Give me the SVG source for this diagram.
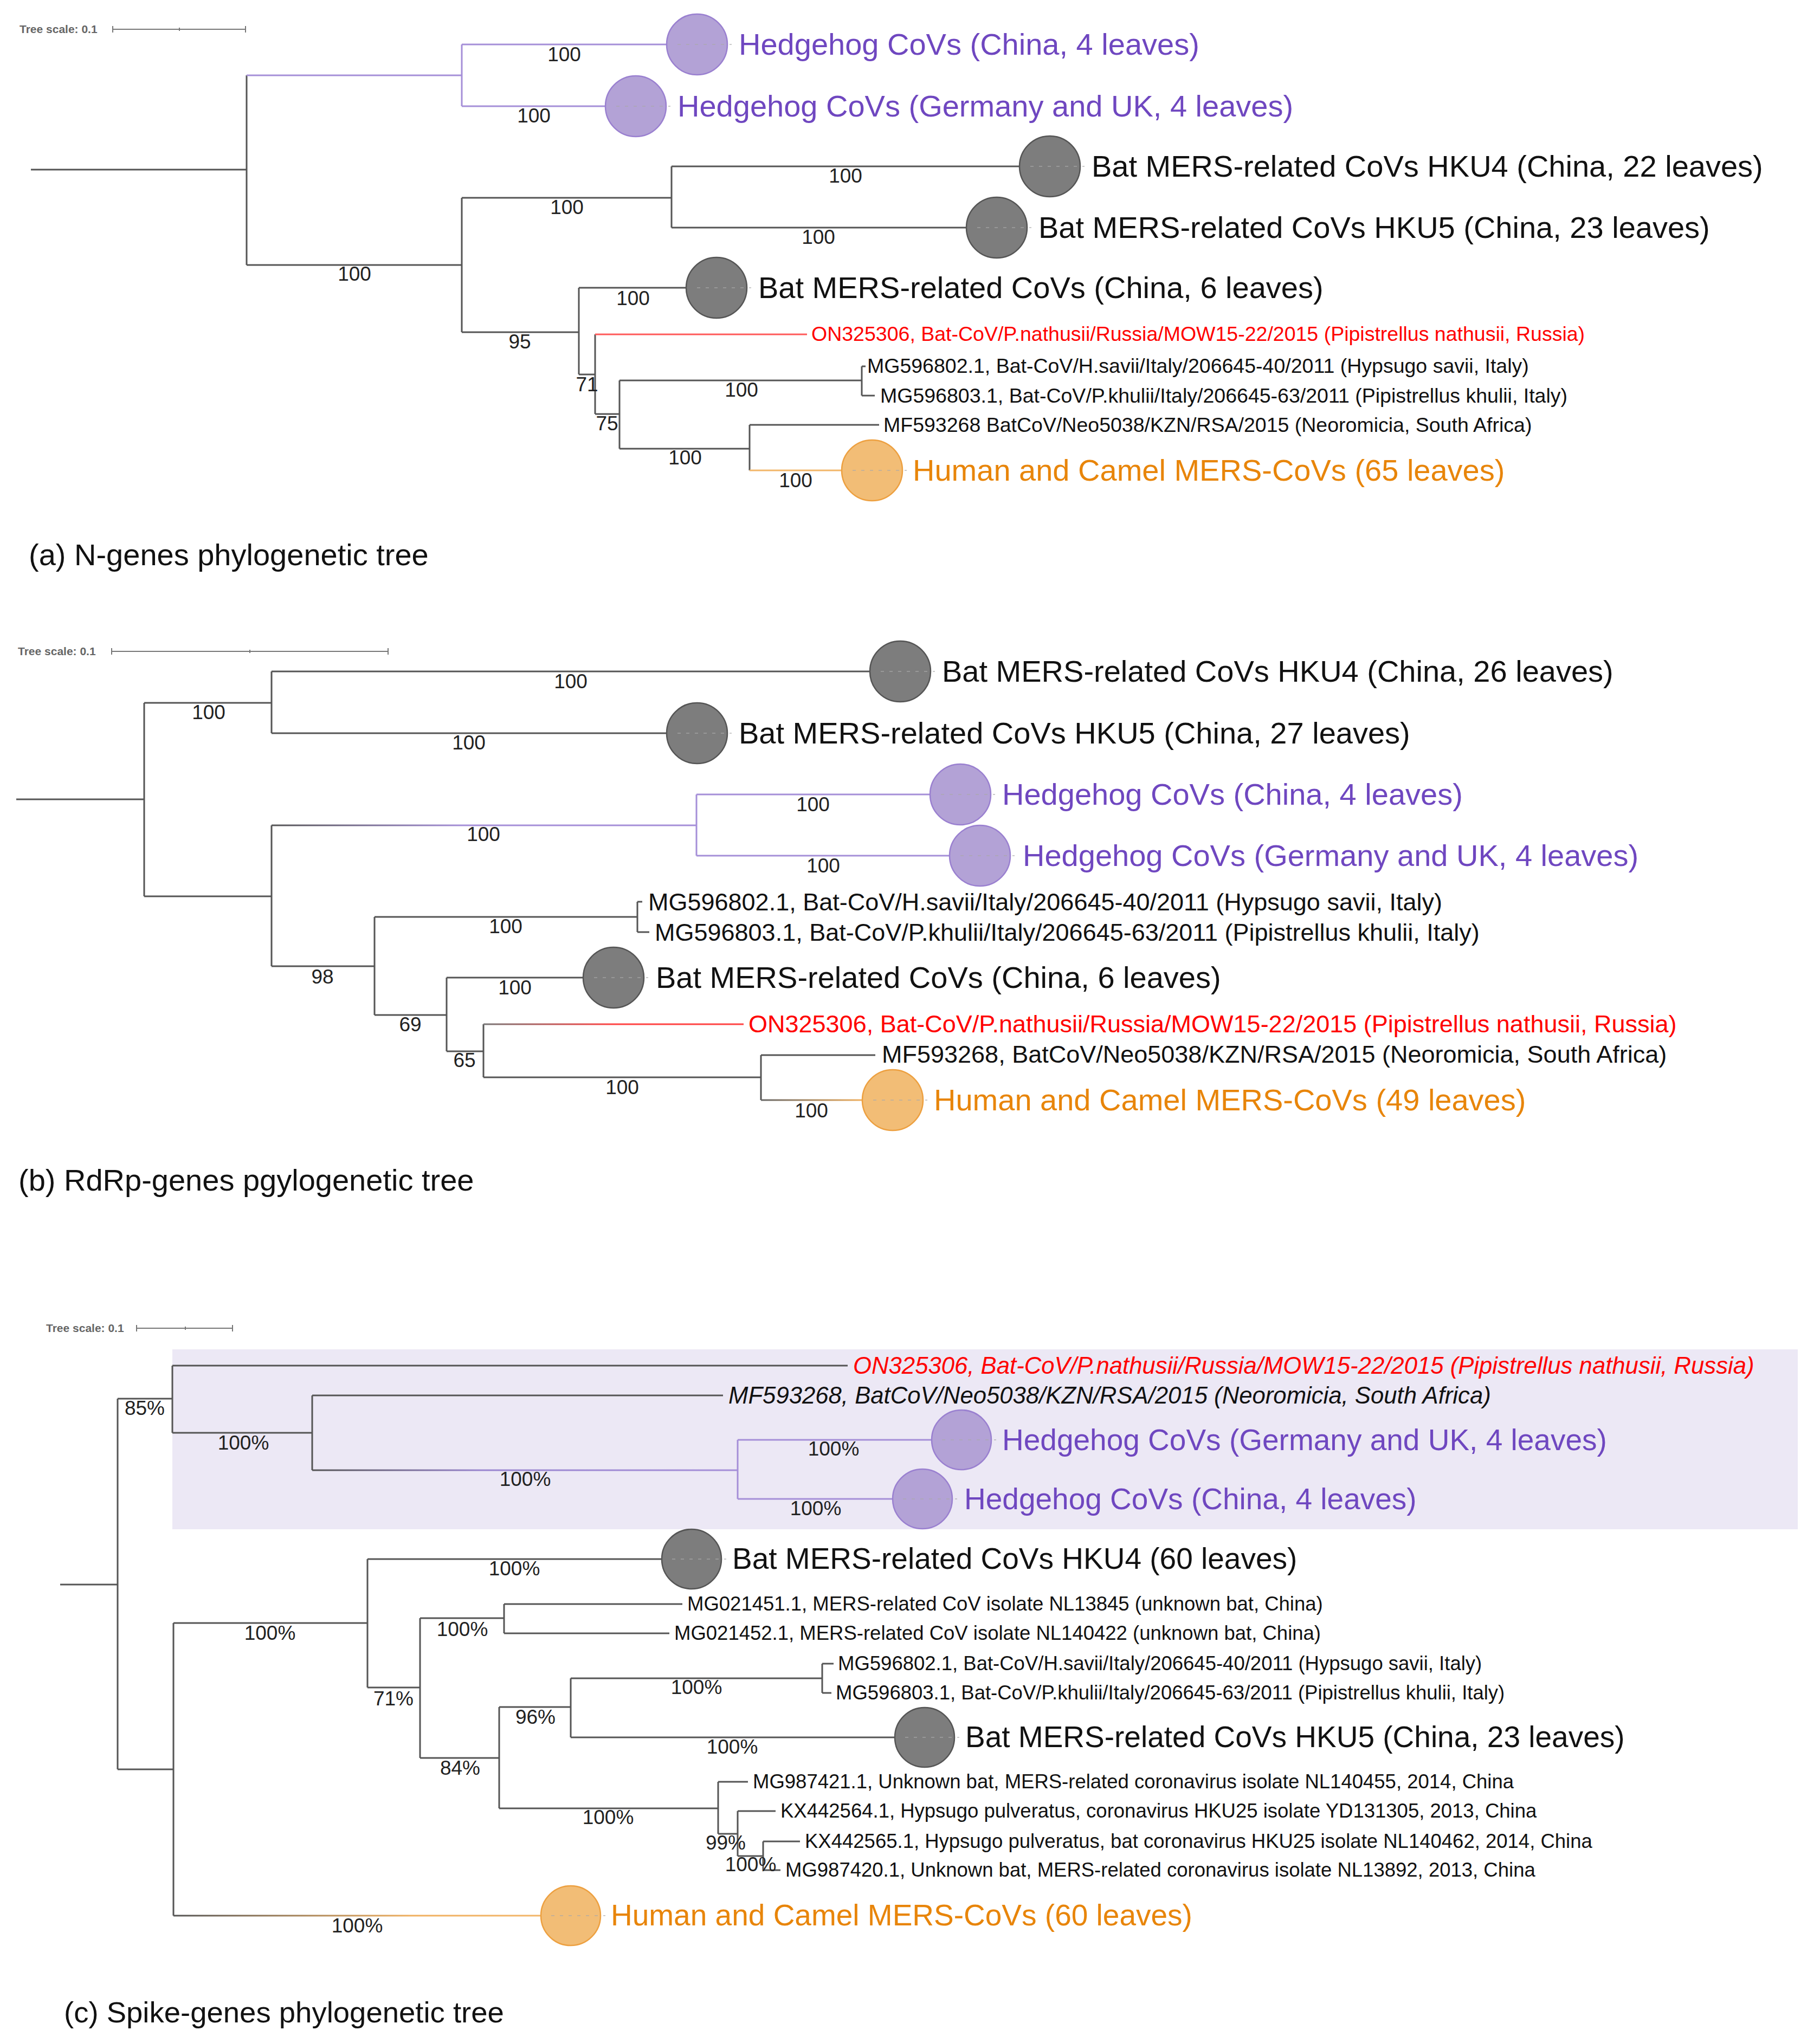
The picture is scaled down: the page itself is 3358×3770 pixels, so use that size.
<svg xmlns="http://www.w3.org/2000/svg" width="3358" height="3770" viewBox="0 0 3358 3770">
<style>
text{font-family:"Liberation Sans",Arial,sans-serif}
.br{stroke:#555;stroke-width:3;fill:none}
.pb{stroke:#a58fd8;stroke-width:3;fill:none}
.rb{stroke:#ff5a5a;stroke-width:3;fill:none}
.ob{stroke:#f2b66a;stroke-width:3;fill:none}
.big{font-size:56px;fill:#111}
.bigc{font-size:55px;fill:#111}
.sa{font-size:37.5px;fill:#111}
.sb{font-size:45px;fill:#111}
.sc{font-size:36.5px;fill:#111}
.it{font-size:43.7px;font-style:italic;fill:#111}
text.pur{fill:#6f47c0}
text.org{fill:#e8850a}
text.red{fill:#ff0000}
.lb{font-size:37px;fill:#222;text-anchor:middle}
.ttl{font-size:56px;fill:#111}
.ttlc{font-size:54.5px;fill:#111}
.ts{font-size:21px;font-weight:bold;fill:#666}
.tsb{stroke:#777;stroke-width:2;fill:none}
.cp{fill:#b3a2d6;stroke:#9a80d0;stroke-width:2.5}
.cg{fill:#7d7d7d;stroke:#555;stroke-width:2.5}
.co{fill:#f2bd76;stroke:#eda040;stroke-width:2.5}
.dl{stroke:#aaa;stroke-width:2;stroke-dasharray:6 10;opacity:0.6}
</style>
<defs>
<linearGradient id="gPb"><stop offset="0" stop-color="#555"/><stop offset="0.45" stop-color="#a58fd8"/><stop offset="1" stop-color="#a58fd8"/></linearGradient>
<linearGradient id="gPc"><stop offset="0" stop-color="#555"/><stop offset="0.4" stop-color="#9a86d0"/><stop offset="1" stop-color="#a58fd8"/></linearGradient>
<linearGradient id="gOc"><stop offset="0" stop-color="#555"/><stop offset="0.65" stop-color="#f0b060"/><stop offset="1" stop-color="#f2b66a"/></linearGradient>
<linearGradient id="gOb"><stop offset="0" stop-color="#666"/><stop offset="1" stop-color="#f0b060"/></linearGradient>
<linearGradient id="gRb"><stop offset="0" stop-color="#777"/><stop offset="0.5" stop-color="#ff4444"/><stop offset="1" stop-color="#ff4444"/></linearGradient>
</defs>
<rect width="3358" height="3770" fill="#fff"/>

<!-- Panel (a) -->
<g id="scale-a">
<text class="ts" x="36" y="61">Tree scale: 0.1</text>
<path class="tsb" d="M208,54 H453 M208,48 V60 M453,48 V60 M331,51 V57"/>
</g>
<g id="connectors-a">
<path class="br" d="M57,313 H455 M455,139 V489 M455,489 H852 M852,365 V613 M852,365 H1239 M1239,307 V420 M1239,307 H1882 M1239,420 H1783 M852,613 H1068 M1068,531 V691 M1068,531 H1266 M1068,691 H1098 M1098,617 V764 M1098,764 H1143 M1143,702 V828 M1143,702 H1590 M1590,676 V730 M1590,676 H1597 M1590,730 H1614 M1143,828 H1383 M1383,784 V868 M1383,784 H1622"/>
<path class="pb" d="M455,139 H852 M852,82 V196 M852,82 H1230 M852,196 H1117"/>
<path class="rb" d="M1098,617 H1489"/>
<path class="ob" d="M1383,868 H1553"/>
<text class="lb" x="1041" y="113">100</text>
<text class="lb" x="985" y="226">100</text>
<text class="lb" x="1560" y="337">100</text>
<text class="lb" x="1510" y="450">100</text>
<text class="lb" x="1046" y="395">100</text>
<text class="lb" x="654" y="518">100</text>
<text class="lb" x="959" y="643">95</text>
<text class="lb" x="1168" y="563">100</text>
<text class="lb" x="1083" y="722">71</text>
<text class="lb" x="1368" y="732">100</text>
<text class="lb" x="1120" y="794">75</text>
<text class="lb" x="1264" y="857">100</text>
<text class="lb" x="1468" y="899">100</text>
</g>
<g id="a-hedgehog-china"><circle class="cp" cx="1286" cy="82" r="56"/><path class="dl" d="M1250,82 H1350"/><text class="big pur" x="1363" y="101">Hedgehog CoVs (China, 4 leaves)</text></g>
<g id="a-hedgehog-germany"><circle class="cp" cx="1173" cy="196" r="56"/><path class="dl" d="M1137,196 H1237"/><text class="big pur" x="1250" y="215">Hedgehog CoVs (Germany and UK, 4 leaves)</text></g>
<g id="a-hku4"><circle class="cg" cx="1937" cy="307" r="56"/><path class="dl" d="M1901,307 H2001"/><text class="big" x="2014" y="326">Bat MERS-related CoVs HKU4 (China, 22 leaves)</text></g>
<g id="a-hku5"><circle class="cg" cx="1839" cy="420" r="56"/><path class="dl" d="M1803,420 H1903"/><text class="big" x="1916" y="439">Bat MERS-related CoVs HKU5 (China, 23 leaves)</text></g>
<g id="a-china6"><circle class="cg" cx="1322" cy="531" r="56"/><path class="dl" d="M1286,531 H1386"/><text class="big" x="1399" y="550">Bat MERS-related CoVs (China, 6 leaves)</text></g>
<g id="a-on325306"><text class="sa red" x="1497" y="629">ON325306, Bat-CoV/P.nathusii/Russia/MOW15-22/2015 (Pipistrellus nathusii, Russia)</text></g>
<g id="a-mg596802"><text class="sa" x="1600" y="688">MG596802.1, Bat-CoV/H.savii/Italy/206645-40/2011 (Hypsugo savii, Italy)</text></g>
<g id="a-mg596803"><text class="sa" x="1624" y="743">MG596803.1, Bat-CoV/P.khulii/Italy/206645-63/2011 (Pipistrellus khulii, Italy)</text></g>
<g id="a-mf593268"><text class="sa" x="1630" y="797">MF593268 BatCoV/Neo5038/KZN/RSA/2015 (Neoromicia, South Africa)</text></g>
<g id="a-human-camel"><circle class="co" cx="1609" cy="868" r="56"/><path class="dl" d="M1573,868 H1673"/><text class="big org" x="1684" y="887">Human and Camel MERS-CoVs (65 leaves)</text></g>
<g id="title-a"><text class="ttl" x="53" y="1043">(a) N-genes phylogenetic tree</text></g>

<!-- Panel (b) -->
<g id="scale-b">
<text class="ts" x="33" y="1209">Tree scale: 0.1</text>
<path class="tsb" d="M206,1202 H716 M206,1196 V1208 M716,1196 V1208 M461,1199 V1205"/>
</g>
<g id="connectors-b">
<path class="br" d="M30,1475 H266 M266,1297 V1654 M266,1297 H501 M501,1239 V1353 M501,1239 H1605 M501,1353 H1230 M266,1654 H501 M501,1523 V1783 M501,1783 H691 M691,1692 V1873 M691,1692 H1176 M1176,1664 V1720 M1176,1664 H1185 M1176,1720 H1198 M691,1873 H824 M824,1804 V1940 M824,1804 H1076 M824,1940 H892 M892,1890 V1988 M892,1988 H1404 M1404,1947 V2030 M1404,1947 H1615"/>
<rect x="501" y="1521.5" width="784" height="3" fill="url(#gPb)"/>
<path class="pb" d="M1285,1466 V1579 M1285,1466 H1716 M1285,1579 H1752"/>
<rect x="892" y="1888.5" width="480" height="3" fill="url(#gRb)"/>
<rect x="1404" y="2028.5" width="187" height="3" fill="url(#gOb)"/>
<text class="lb" x="385" y="1327">100</text>
<text class="lb" x="1053" y="1270">100</text>
<text class="lb" x="865" y="1383">100</text>
<text class="lb" x="892" y="1552">100</text>
<text class="lb" x="1500" y="1497">100</text>
<text class="lb" x="1519" y="1610">100</text>
<text class="lb" x="595" y="1815">98</text>
<text class="lb" x="933" y="1722">100</text>
<text class="lb" x="757" y="1903">69</text>
<text class="lb" x="950" y="1835">100</text>
<text class="lb" x="857" y="1969">65</text>
<text class="lb" x="1148" y="2019">100</text>
<text class="lb" x="1497" y="2062">100</text>
</g>
<g id="b-hku4"><circle class="cg" cx="1661" cy="1239" r="56"/><path class="dl" d="M1625,1239 H1725"/><text class="big" x="1738" y="1258">Bat MERS-related CoVs HKU4 (China, 26 leaves)</text></g>
<g id="b-hku5"><circle class="cg" cx="1286" cy="1353" r="56"/><path class="dl" d="M1250,1353 H1350"/><text class="big" x="1363" y="1372">Bat MERS-related CoVs HKU5 (China, 27 leaves)</text></g>
<g id="b-hedgehog-china"><circle class="cp" cx="1772" cy="1466" r="56"/><path class="dl" d="M1736,1466 H1836"/><text class="big pur" x="1849" y="1485">Hedgehog CoVs (China, 4 leaves)</text></g>
<g id="b-hedgehog-germany"><circle class="cp" cx="1808" cy="1579" r="56"/><path class="dl" d="M1772,1579 H1872"/><text class="big pur" x="1887" y="1598">Hedgehog CoVs (Germany and UK, 4 leaves)</text></g>
<g id="b-mg596802"><text class="sb" x="1196" y="1680">MG596802.1, Bat-CoV/H.savii/Italy/206645-40/2011 (Hypsugo savii, Italy)</text></g>
<g id="b-mg596803"><text class="sb" x="1208" y="1736">MG596803.1, Bat-CoV/P.khulii/Italy/206645-63/2011 (Pipistrellus khulii, Italy)</text></g>
<g id="b-china6"><circle class="cg" cx="1132" cy="1804" r="56"/><path class="dl" d="M1096,1804 H1196"/><text class="big" x="1210" y="1823">Bat MERS-related CoVs (China, 6 leaves)</text></g>
<g id="b-on325306"><text class="sb red" x="1381" y="1905">ON325306, Bat-CoV/P.nathusii/Russia/MOW15-22/2015 (Pipistrellus nathusii, Russia)</text></g>
<g id="b-mf593268"><text class="sb" x="1627" y="1961">MF593268, BatCoV/Neo5038/KZN/RSA/2015 (Neoromicia, South Africa)</text></g>
<g id="b-human-camel"><circle class="co" cx="1647" cy="2030" r="56"/><path class="dl" d="M1611,2030 H1711"/><text class="big org" x="1723" y="2049">Human and Camel MERS-CoVs (49 leaves)</text></g>
<g id="title-b"><text class="ttl" x="34" y="2197">(b) RdRp-genes pgylogenetic tree</text></g>

<!-- Panel (c) -->
<g id="scale-c">
<text class="ts" x="85" y="2458">Tree scale: 0.1</text>
<path class="tsb" d="M252,2451 H429 M252,2445 V2457 M429,2445 V2457 M342,2448 V2454"/>
</g>
<rect id="c-highlight" x="318" y="2490" width="2999" height="332" fill="#ece8f5"/>
<g id="connectors-c">
<path class="br" d="M111,2924 H217 M217,2581 V3265 M217,2581 H318 M318,2520 V2644 M318,2520 H1564 M318,2644 H576 M576,2575 V2713 M576,2575 H1334 M217,3265 H320 M320,2995 V3535 M320,2995 H678 M678,2877 V3114 M678,2877 H1220 M678,3114 H775 M775,2986 V3244 M775,2986 H930 M930,2960 V3014 M930,2960 H1259 M930,3014 H1235 M775,3244 H921 M921,3150 V3337 M921,3150 H1053 M1053,3097 V3206 M1053,3097 H1517 M1517,3070 V3124 M1517,3070 H1538 M1517,3124 H1534 M1053,3206 H1650 M921,3337 H1325 M1325,3288 V3384 M1325,3288 H1380 M1325,3384 H1361 M1361,3342 V3425 M1361,3342 H1431 M1361,3425 H1408 M1408,3398 V3451 M1408,3398 H1476 M1408,3451 H1440"/>
<rect x="576" y="2711.5" width="785" height="3" fill="url(#gPc)"/>
<path class="pb" d="M1361,2657 V2766 M1361,2657 H1718 M1361,2766 H1646"/>
<rect x="320" y="3533.5" width="677" height="3" fill="url(#gOc)"/>
<text class="lb" x="267" y="2611">85%</text>
<text class="lb" x="449" y="2675">100%</text>
<text class="lb" x="969" y="2742">100%</text>
<text class="lb" x="1538" y="2686">100%</text>
<text class="lb" x="1505" y="2796">100%</text>
<text class="lb" x="949" y="2907">100%</text>
<text class="lb" x="498" y="3026">100%</text>
<text class="lb" x="853" y="3019">100%</text>
<text class="lb" x="726" y="3147">71%</text>
<text class="lb" x="1285" y="3126">100%</text>
<text class="lb" x="988" y="3181">96%</text>
<text class="lb" x="1351" y="3236">100%</text>
<text class="lb" x="849" y="3275">84%</text>
<text class="lb" x="1122" y="3366">100%</text>
<text class="lb" x="1339" y="3413">99%</text>
<text class="lb" x="1385" y="3453">100%</text>
<text class="lb" x="659" y="3566">100%</text>
</g>
<g id="c-on325306"><text class="it red" x="1574" y="2535">ON325306, Bat-CoV/P.nathusii/Russia/MOW15-22/2015 (Pipistrellus nathusii, Russia)</text></g>
<g id="c-mf593268"><text class="it" x="1344" y="2590">MF593268, BatCoV/Neo5038/KZN/RSA/2015 (Neoromicia, South Africa)</text></g>
<g id="c-hedgehog-germany"><circle class="cp" cx="1774" cy="2657" r="55"/><path class="dl" d="M1738,2657 H1838"/><text class="bigc pur" x="1849" y="2676">Hedgehog CoVs (Germany and UK, 4 leaves)</text></g>
<g id="c-hedgehog-china"><circle class="cp" cx="1702" cy="2766" r="55"/><path class="dl" d="M1666,2766 H1766"/><text class="bigc pur" x="1779" y="2785">Hedgehog CoVs (China, 4 leaves)</text></g>
<g id="c-hku4"><circle class="cg" cx="1276" cy="2877" r="55"/><path class="dl" d="M1240,2877 H1340"/><text class="bigc" x="1351" y="2895">Bat MERS-related CoVs HKU4 (60 leaves)</text></g>
<g id="c-mg021451"><text class="sc" x="1268" y="2972">MG021451.1, MERS-related CoV isolate NL13845 (unknown bat, China)</text></g>
<g id="c-mg021452"><text class="sc" x="1244" y="3026">MG021452.1, MERS-related CoV isolate NL140422 (unknown bat, China)</text></g>
<g id="c-mg596802"><text class="sc" x="1546" y="3082">MG596802.1, Bat-CoV/H.savii/Italy/206645-40/2011 (Hypsugo savii, Italy)</text></g>
<g id="c-mg596803"><text class="sc" x="1542" y="3136">MG596803.1, Bat-CoV/P.khulii/Italy/206645-63/2011 (Pipistrellus khulii, Italy)</text></g>
<g id="c-hku5"><circle class="cg" cx="1706" cy="3206" r="55"/><path class="dl" d="M1670,3206 H1770"/><text class="bigc" x="1781" y="3224">Bat MERS-related CoVs HKU5 (China, 23 leaves)</text></g>
<g id="c-mg987421"><text class="sc" x="1389" y="3300">MG987421.1, Unknown bat, MERS-related coronavirus isolate NL140455, 2014, China</text></g>
<g id="c-kx442564"><text class="sc" x="1440" y="3354">KX442564.1, Hypsugo pulveratus, coronavirus HKU25 isolate YD131305, 2013, China</text></g>
<g id="c-kx442565"><text class="sc" x="1485" y="3410">KX442565.1, Hypsugo pulveratus, bat coronavirus HKU25 isolate NL140462, 2014, China</text></g>
<g id="c-mg987420"><text class="sc" x="1449" y="3463">MG987420.1, Unknown bat, MERS-related coronavirus isolate NL13892, 2013, China</text></g>
<g id="c-human-camel"><circle class="co" cx="1053" cy="3535" r="55"/><path class="dl" d="M1017,3535 H1117"/><text class="bigc org" x="1127" y="3553">Human and Camel MERS-CoVs (60 leaves)</text></g>
<g id="title-c"><text class="ttlc" x="118" y="3732">(c) Spike-genes phylogenetic tree</text></g>
</svg>
